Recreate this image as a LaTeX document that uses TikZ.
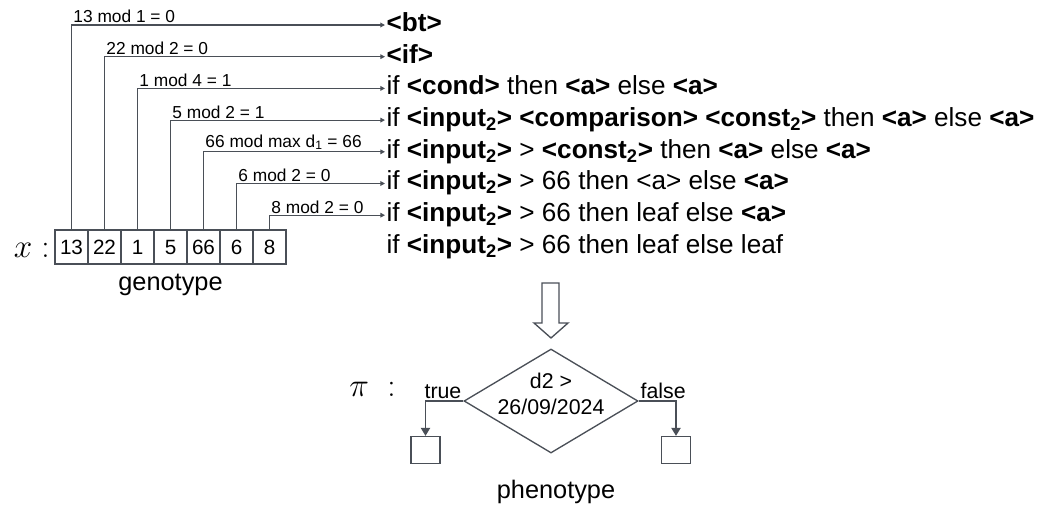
\documentclass[tikz,border=0pt]{standalone}
\usepackage{fontspec}
\setmainfont{Liberation Sans}
\usetikzlibrary{arrows.meta,positioning,shapes.geometric}

\definecolor{wire}{HTML}{4A4F57}
\newcommand{\nt}[1]{\textbf{<#1>}}
\newcommand{\low}[1]{\textsubscript{#1}}

\begin{document}
\begin{tikzpicture}[x=0.75pt,y=-0.75pt,
  cell/.style={draw=wire,line width=1pt,minimum width=24.75pt,minimum height=25.5pt,inner sep=0pt,font=\fontsize{15.5}{18}\selectfont},
  rule/.style={anchor=west,inner sep=1pt,font=\fontsize{19.6}{23}\selectfont,text height=14pt,text depth=4.5pt},
  pick/.style={draw=wire,line width=0.9pt,-{Triangle[length=3.5pt,width=3.5pt]}},
  modlab/.style={above right,inner sep=1pt,font=\fontsize{13}{15}\selectfont},
  branch/.style={draw=wire,line width=1pt,-{Triangle[length=6pt,width=7pt]}},
  leaf/.style={draw=wire,line width=1pt,minimum width=21.75pt,minimum height=20.25pt,inner sep=0pt},
  big/.style={font=\fontsize{24.88}{30}\selectfont,inner sep=0pt,anchor=base east}]
\useasboundingbox (0,0) rectangle (1042,507);

\node[cell] (c1) at (71.5,247) {13};
\node[cell] (c2) at (104.5,247) {22};
\node[cell] (c3) at (137.5,247) {1};
\node[cell] (c4) at (170.5,247) {5};
\node[cell] (c5) at (203.5,247) {66};
\node[cell] (c6) at (236.5,247) {6};
\node[cell] (c7) at (269.5,247) {8};
\node[big] (xlab) at (50,257) {$x:$};
\node[font=\fontsize{19}{22}\selectfont] (geno) at (170.5,285) {genotype};

\node[rule] (r1) at (385,25) {\nt{bt}};
\node[rule] (r2) at (385,56.7) {\nt{if}};
\node[rule] (r3) at (385,88.4) {if \nt{cond} then \nt{a} else \nt{a}};
\node[rule] (r4) at (385,120.1) {if \nt{input\low{2}} \nt{comparison} \nt{const\low{2}} then \nt{a} else \nt{a}};
\node[rule] (r5) at (385,151.8) {if \nt{input\low{2}} > \nt{const\low{2}} then \nt{a} else \nt{a}};
\node[rule] (r6) at (385,183.5) {if \nt{input\low{2}} > 66 then <a> else \nt{a}};
\node[rule] (r7) at (385,215.2) {if \nt{input\low{2}} > 66 then leaf else \nt{a}};
\node[rule] (r8) at (385,246.9) {if \nt{input\low{2}} > 66 then leaf else leaf};

\draw[pick] (c1.north) |- node[modlab,pos=0.5] {13 mod 1 = 0} (r1.west);
\draw[pick] (c2.north) |- node[modlab,pos=0.5] {22 mod 2 = 0} (r2.west);
\draw[pick] (c3.north) |- node[modlab,pos=0.5] {1 mod 4 = 1} (r3.west);
\draw[pick] (c4.north) |- node[modlab,pos=0.5] {5 mod 2 = 1} (r4.west);
\draw[pick] (c5.north) |- node[modlab,pos=0.5] {66 mod max d\low{1} = 66} (r5.west);
\draw[pick] (c6.north) |- node[modlab,pos=0.5] {6 mod 2 = 0} (r6.west);
\draw[pick] (c7.north) |- node[modlab,pos=0.5] {8 mod 2 = 0} (r7.west);

\draw[wire,line width=1pt] (542,283) -- (559,283) -- (559,323) -- (568,323) -- (551,338) -- (534,323) -- (542,323) -- cycle;

\node[big] (pilab) at (396,396) {$\pi\;:$};
\node[draw=wire,line width=1pt,diamond,minimum width=130.5pt,minimum height=78pt,inner sep=0pt] (cond) at (551,401) {};
\node[font=\fontsize{16}{19}\selectfont,align=center] (condtext) at (551,394) {d2 >\\26/09/2024};
\node[leaf] (yes) at (425.5,450) {};
\node[leaf] (no) at (676,450) {};
\draw[branch] (cond.west) node[above left,inner sep=1pt,font=\fontsize{16}{19}\selectfont] {true} -| (yes.north);
\draw[branch] (cond.east) node[above right,inner sep=1pt,font=\fontsize{16}{19}\selectfont] {false} -| (no.north);
\node[font=\fontsize{19}{22}\selectfont] (pheno) at (556,492) {phenotype};
\end{tikzpicture}
\end{document}
